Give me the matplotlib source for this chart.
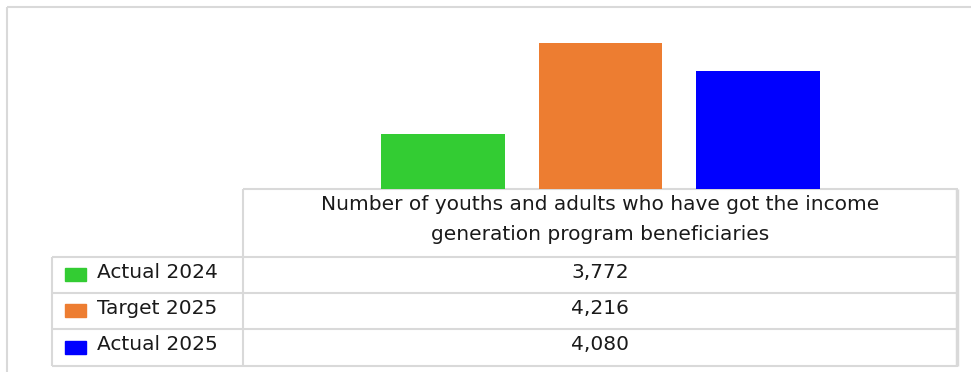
import matplotlib
matplotlib.use('Agg')
import matplotlib.pyplot as plt
from matplotlib.lines import Line2D
from matplotlib.patches import Rectangle


series = ['Actual 2024', 'Target 2025', 'Actual 2025']
values = [3772, 4216, 4080]
colors = ['#33CC33', '#ED7D31', '#0000FF']
category = 'Number of youths and adults who have got the income\ngeneration program beneficiaries'

W, H = 971, 372
fig = plt.figure(figsize=(W / 100, H / 100), dpi=100)
fig.patch.set_facecolor('white')

grid_col = '#D9D9D9'
font = 14.5


# bars
ax = fig.add_axes([243 / W, 1 - 189 / H, (958 - 243) / W, (189 - 26) / H])
offsets = [-0.22, 0.0, 0.22]
for off, val, col in zip(offsets, values, colors):
    ax.bar(off, val, width=0.1734, color=col, edgecolor='none')
ax.set_xlim(-0.5, 0.5)
ax.set_ylim(3500, 4300)
ax.set_xticks([])
ax.set_yticks([])
for s in ax.spines.values():
    s.set_visible(False)
ax.patch.set_alpha(0)


# overlay in pixel coordinates for the table and frame
ov = fig.add_axes([0, 0, 1, 1], zorder=-1)
ov.set_xlim(0, W)
ov.set_ylim(H, 0)
ov.axis('off')

def line(x0, y0, x1, y1, lw=1.5):
    ov.add_line(Line2D([x0, x1], [y0, y1], color=grid_col, lw=lw, solid_capstyle='butt'))

# outer frame
line(7, 7, 971, 7)
line(7, 7, 7, 372)

# table grid
row_edges = [257, 293, 329, 366]
line(243, 189, 958, 189)
line(243, 189, 243, 366)
line(957, 189, 957, 366, lw=2.5)
line(52, 257, 52, 366)
for y in row_edges:
    line(52, y, 958, y)

lines = category.split('\n')
ov.text(600, 205, lines[0], ha='center', va='center', fontsize=font, color='#1a1a1a')
ov.text(600, 235, lines[1], ha='center', va='center', fontsize=font, color='#1a1a1a')

for i, (name, val, col) in enumerate(zip(series, values, colors)):
    yc = (row_edges[i] + row_edges[i + 1]) / 2 - 3
    ov.add_patch(Rectangle((65, yc - 4), 21, 13, color=col))
    ov.text(97, yc, name, ha='left', va='center', fontsize=font, color='#1a1a1a')
    ov.text(600, yc, f'{val:,}', ha='center', va='center', fontsize=font, color='#1a1a1a')

fig.savefig('out.png', dpi=100)
